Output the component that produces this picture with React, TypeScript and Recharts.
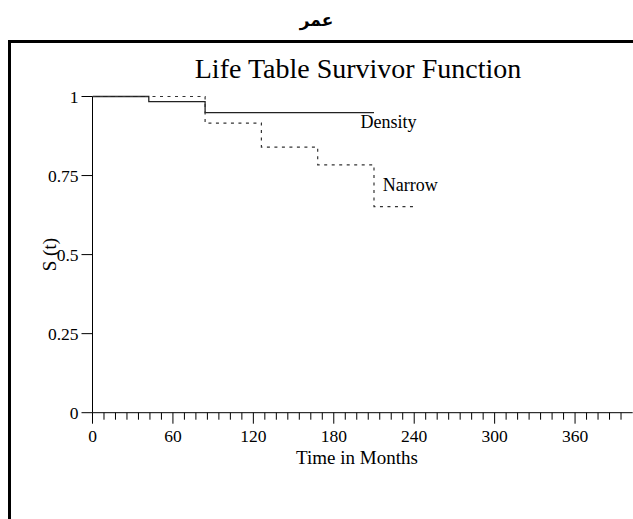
import React from 'react';
import { ComposedChart, Line, XAxis, YAxis, ReferenceDot } from 'recharts';

// ---- data ----
const densityTime = [0, 42, 84, 210];
const densitySurv = [1, 0.984, 0.949, 0.949];
const narrowTime = [0, 84, 126, 168, 210, 240];
const narrowSurv = [1, 0.916, 0.84, 0.784, 0.652, 0.652];
const majorTicks = [0, 60, 120, 180, 240, 300, 360];
const minorPerMajor = 7;
const yTicks = [0, 0.25, 0.5, 0.75, 1];
const yTickLabels = ['0', '0.25', '0.5', '0.75', '1'];
const seriesLabels = ['Density', 'Narrow'];
const labelPos = [
  { t: 200, s: 0.918 },
  { t: 216.5, s: 0.72 },
];

const densityData = densityTime.map((t, i) => ({ t, s: densitySurv[i] }));
const narrowData = narrowTime.map((t, i) => ({ t, s: narrowSurv[i] }));

const X_MAX = 403;
const step = (majorTicks[1] - majorTicks[0]) / minorPerMajor;
const allTicks: number[] = [];
for (let i = 0; i * step <= X_MAX - 5; i++) allTicks.push(+(i * step).toFixed(4));

const SERIF = '"Liberation Serif", "Times New Roman", serif';

const XTick = (props: any) => {
  const { x, y, payload } = props;
  const v = payload.value;
  const isMajor = majorTicks.some((m) => Math.abs(m - v) < 0.01);
  return (
    <g>
      <line x1={x} x2={x} y1={y} y2={y + (isMajor ? 11 : 7)} stroke="#000" strokeWidth={1} />
      {isMajor && (
        <text x={x} y={y + 29} textAnchor="middle" fontFamily={SERIF} fontSize={17.5} fill="#000">
          {String(Math.round(v))}
        </text>
      )}
    </g>
  );
};

const XLabel = (props: any) => {
  const vb = props.viewBox || {};
  return (
    <text x={357} y={vb.y + 45} textAnchor="middle" dominantBaseline="central" fontFamily={SERIF} fontSize={19} fill="#000">
      Time in Months
    </text>
  );
};

const makeLabel = (text: string) => (props: any) => {
  const vb = props.viewBox || {};
  return (
    <text x={vb.x} y={vb.y} dominantBaseline="central" fontFamily={SERIF} fontSize={18} fill="#000">
      {text}
    </text>
  );
};

const YLabel = (props: any) => {
  const vb = props.viewBox || {};
  const cx = 50;
  const cy = vb.y + vb.height / 2;
  return (
    <text
      x={cx}
      y={cy}
      transform={`rotate(-90 ${cx} ${cy})`}
      textAnchor="middle"
      dominantBaseline="central"
      fontFamily={SERIF}
      fontSize={19}
      fill="#000"
    >
      S (t)
    </text>
  );
};

export default function App() {
  return (
    <div
      style={{
        position: 'fixed',
        left: 0,
        top: 0,
        width: 633,
        height: 519,
        overflow: 'hidden',
        background: '#fff',
      }}
    >
      <div
        style={{
          position: 'absolute',
          left: 0,
          top: 8,
          width: 633,
          textAlign: 'center',
          fontFamily: '"DejaVu Sans", sans-serif',
          fontWeight: 'bold',
          fontSize: 17,
          lineHeight: '24px',
          direction: 'rtl',
        }}
      >
        عمر
      </div>
      <div
        style={{
          position: 'absolute',
          left: 8,
          top: 40,
          width: 700,
          height: 600,
          border: '3px solid #000',
          boxSizing: 'border-box',
        }}
      />
      <div
        style={{
          position: 'absolute',
          left: 0,
          top: 52,
          width: 716,
          textAlign: 'center',
          fontFamily: SERIF,
          fontSize: 28,
          lineHeight: '34px',
          color: '#000',
        }}
      >
        Life Table Survivor Function
      </div>
      <div style={{ position: 'absolute', left: 0, top: 0 }}>
        <ComposedChart
          width={633}
          height={519}
          margin={{ top: 96.5, right: 0.3, left: 0, bottom: 66.3 }}
        >
          <XAxis
            type="number"
            dataKey="t"
            domain={[0, X_MAX]}
            ticks={allTicks}
            interval={0}
            allowDataOverflow
            height={40}
            tickSize={0}
            tickMargin={0}
            tickLine={false}
            axisLine={{ stroke: '#000', strokeWidth: 1 }}
            tick={<XTick />}
            label={<XLabel />}
          />
          <YAxis
            type="number"
            dataKey="s"
            domain={[0, 1]}
            ticks={yTicks}
            interval={0}
            width={92.5}
            tickSize={11}
            tickMargin={3}
            tickLine={{ stroke: '#000', strokeWidth: 1 }}
            axisLine={{ stroke: '#000', strokeWidth: 1 }}
            tickFormatter={(v: number) => yTickLabels[yTicks.indexOf(v)] ?? String(v)}
            tick={{ fontFamily: SERIF, fontSize: 17.5, fill: '#000' }}
            label={<YLabel />}
          />
          <Line
            data={densityData}
            dataKey="s"
            type="stepAfter"
            stroke="#222"
            strokeWidth={1.3}
            dot={false}
            activeDot={false}
            isAnimationActive={false}
          />
          <Line
            data={narrowData}
            dataKey="s"
            type="stepAfter"
            stroke="#333"
            strokeWidth={1.2}
            strokeDasharray="3 4.5"
            dot={false}
            activeDot={false}
            isAnimationActive={false}
          />
          {seriesLabels.map((name, i) => (
            <ReferenceDot
              key={name}
              x={labelPos[i].t}
              y={labelPos[i].s}
              r={0}
              fill="none"
              stroke="none"
              label={makeLabel(name)}
            />
          ))}
        </ComposedChart>
      </div>
    </div>
  );
}
